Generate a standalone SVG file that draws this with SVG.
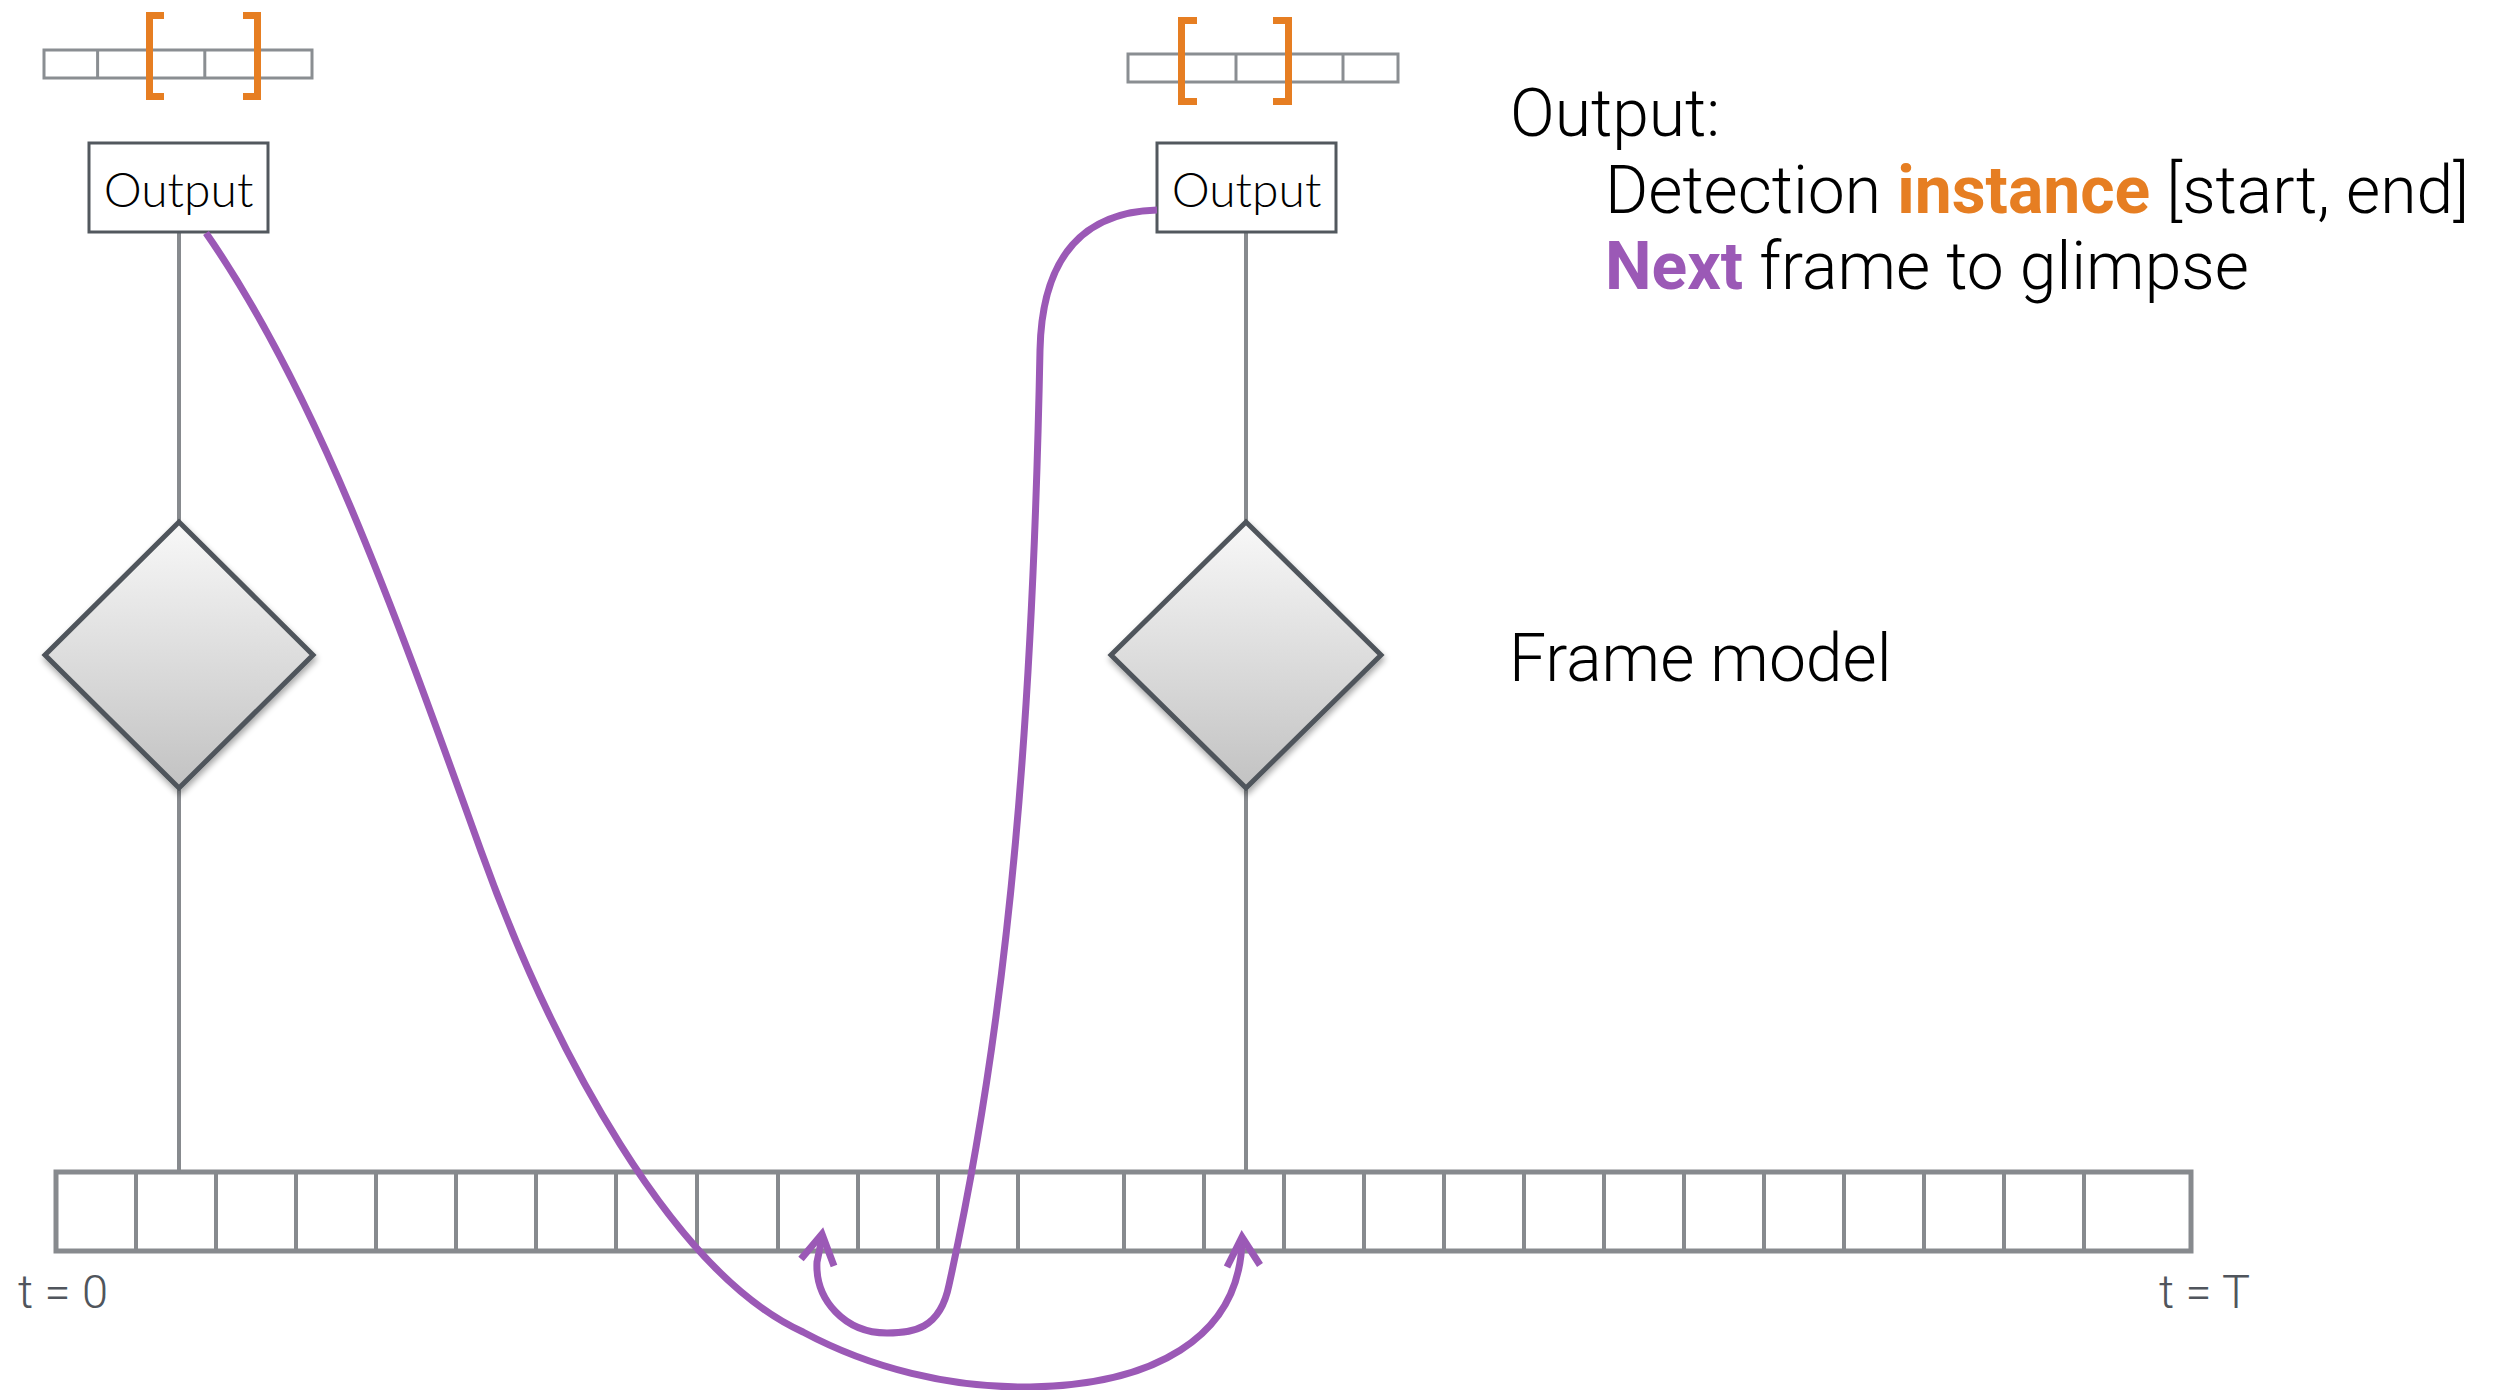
<svg xmlns="http://www.w3.org/2000/svg" width="2517" height="1390" viewBox="0 0 2517 1390">
  <style>
    .strip { fill: #ffffff; stroke: #8a8e92; stroke-width: 3; }
    .div { stroke: #8a8e92; stroke-width: 3; }
    .bracket { fill: none; stroke: #e67e22; stroke-width: 7; }
    .box { fill: #ffffff; stroke: #52585e; stroke-width: 3; }
    .boxlabel { font-family: Lato, "Open Sans", "Liberation Sans", sans-serif; font-weight: 300; font-size: 48px; fill: #000000; text-anchor: middle; }
    .stem { stroke: #878a8e; stroke-width: 4; }
    .diamond { fill: url(#dgrad); stroke: #4f555b; stroke-width: 5; stroke-linejoin: miter; filter: url(#shadow); }
    .timeline { fill: #ffffff; stroke: #878a8e; stroke-width: 5; }
    .tick { stroke: #878a8e; stroke-width: 4; }
    .glimpse { fill: none; stroke: #9b59b6; stroke-width: 7; stroke-linecap: butt; }
    .head { fill: none; stroke: #9b59b6; stroke-width: 7; stroke-linejoin: miter; }
    .note { font-family: Roboto, "Liberation Sans", sans-serif; font-weight: 300; font-size: 66px; fill: #000000; }
    .strong { font-weight: 700; }
    .axis { font-family: Roboto, "Liberation Sans", sans-serif; font-weight: 300; font-size: 47px; fill: #50555c; }
  </style>
  <defs>
    <linearGradient id="dgrad" x1="0" y1="0" x2="0" y2="1">
      <stop offset="0" stop-color="#f8f8f8"/>
      <stop offset="1" stop-color="#c2c2c2"/>
    </linearGradient>
    <filter id="shadow" x="-20%" y="-20%" width="140%" height="140%">
      <feGaussianBlur in="SourceAlpha" stdDeviation="3"/>
      <feOffset dx="1" dy="4" result="b"/>
      <feComponentTransfer><feFuncA type="linear" slope="0.35"/></feComponentTransfer>
      <feMerge><feMergeNode/><feMergeNode in="SourceGraphic"/></feMerge>
    </filter>
  </defs>

  <rect width="2517" height="1390" fill="#ffffff"/>

  <!-- vertical stems linking timeline, frame model and output -->
  <g id="connectors">
    <line class="stem" x1="179" y1="232" x2="179" y2="1172"/>
    <line class="stem" x1="1246" y1="232" x2="1246" y2="1172"/>
  </g>

  <!-- timeline of frames -->
  <g id="timeline">
    <rect class="timeline" x="56" y="1172" width="2135" height="79"/>
    <g class="tick">
      <line x1="136" y1="1172" x2="136" y2="1251"/>
      <line x1="216" y1="1172" x2="216" y2="1251"/>
      <line x1="296" y1="1172" x2="296" y2="1251"/>
      <line x1="376" y1="1172" x2="376" y2="1251"/>
      <line x1="456" y1="1172" x2="456" y2="1251"/>
      <line x1="536" y1="1172" x2="536" y2="1251"/>
      <line x1="616" y1="1172" x2="616" y2="1251"/>
      <line x1="697" y1="1172" x2="697" y2="1251"/>
      <line x1="778" y1="1172" x2="778" y2="1251"/>
      <line x1="858" y1="1172" x2="858" y2="1251"/>
      <line x1="938" y1="1172" x2="938" y2="1251"/>
      <line x1="1018" y1="1172" x2="1018" y2="1251"/>
      <line x1="1124" y1="1172" x2="1124" y2="1251"/>
      <line x1="1204" y1="1172" x2="1204" y2="1251"/>
      <line x1="1284" y1="1172" x2="1284" y2="1251"/>
      <line x1="1364" y1="1172" x2="1364" y2="1251"/>
      <line x1="1444" y1="1172" x2="1444" y2="1251"/>
      <line x1="1524" y1="1172" x2="1524" y2="1251"/>
      <line x1="1604" y1="1172" x2="1604" y2="1251"/>
      <line x1="1684" y1="1172" x2="1684" y2="1251"/>
      <line x1="1764" y1="1172" x2="1764" y2="1251"/>
      <line x1="1844" y1="1172" x2="1844" y2="1251"/>
      <line x1="1924" y1="1172" x2="1924" y2="1251"/>
      <line x1="2004" y1="1172" x2="2004" y2="1251"/>
      <line x1="2084" y1="1172" x2="2084" y2="1251"/>
    </g>
    <text class="axis" x="18" y="1308">t = 0</text>
    <text class="axis" x="2159" y="1308">t = T</text>
  </g>

  <!-- first glimpse: frame model, output and detection strip -->
  <g id="model-1">
    <polygon class="diamond" points="179,522 313,655 179,788 45,655"/>
  </g>
  <g id="output-1">
    <rect class="box" x="89" y="143" width="179" height="89"/>
    <text class="boxlabel" x="178.5" y="207">Output</text>
  </g>
  <g id="instance-1">
    <rect class="strip" x="44" y="50" width="268" height="28"/>
    <line class="div" x1="97.6" y1="50" x2="97.6" y2="78"/>
    <line class="div" x1="151.2" y1="50" x2="151.2" y2="78"/>
    <line class="div" x1="204.8" y1="50" x2="204.8" y2="78"/>
    <line class="div" x1="258.4" y1="50" x2="258.4" y2="78"/>
    <path class="bracket" d="M164,15.5 H149.5 V96.5 H164"/>
    <path class="bracket" d="M243,15.5 H257.5 V96.5 H243"/>
  </g>

  <!-- second glimpse -->
  <g id="model-2">
    <polygon class="diamond" points="1246,522 1381,655 1246,788 1111,655"/>
  </g>
  <g id="output-2">
    <rect class="box" x="1157" y="143" width="179" height="89"/>
    <text class="boxlabel" x="1246.5" y="207">Output</text>
  </g>
  <g id="instance-2">
    <rect class="strip" x="1128" y="54" width="270" height="28"/>
    <line class="div" x1="1182" y1="54" x2="1182" y2="82"/>
    <line class="div" x1="1236" y1="54" x2="1236" y2="82"/>
    <line class="div" x1="1290" y1="54" x2="1290" y2="82"/>
    <line class="div" x1="1343" y1="54" x2="1343" y2="82"/>
    <path class="bracket" d="M1197,20.5 H1181.5 V101.5 H1197"/>
    <path class="bracket" d="M1273,20.5 H1288.5 V101.5 H1273"/>
  </g>

  <!-- "next frame" jumps -->
  <g id="jumps">
    <path class="glimpse" d="M206,233 C315,390 391,601 481,851 C553,1051 673,1273 803,1332 C870,1368 950,1388 1030,1387 C1150,1385 1240,1340 1242,1240"/>
    <polyline class="head" points="1227,1267 1242,1237 1260,1265"/>
    <path class="glimpse" d="M1157,210 C1085,212 1042,255 1040,350 C1033,700 1012,1000 949,1285 C940,1330 912,1333 887,1333 C845,1333 815,1300 817,1262 L822,1238"/>
    <polyline class="head" points="801,1259 822,1234 834,1266"/>
  </g>

  <!-- legend -->
  <g id="legend">
    <text class="note" x="1510" y="136">Output:</text>
    <text class="note" x="1605" y="213">Detection <tspan class="strong" fill="#e67e22">instance</tspan> [start, end]</text>
    <text class="note" x="1605" y="289"><tspan class="strong" fill="#9b59b6">Next</tspan> frame to glimpse</text>
    <text class="note" x="1509" y="681">Frame model</text>
  </g>
</svg>
